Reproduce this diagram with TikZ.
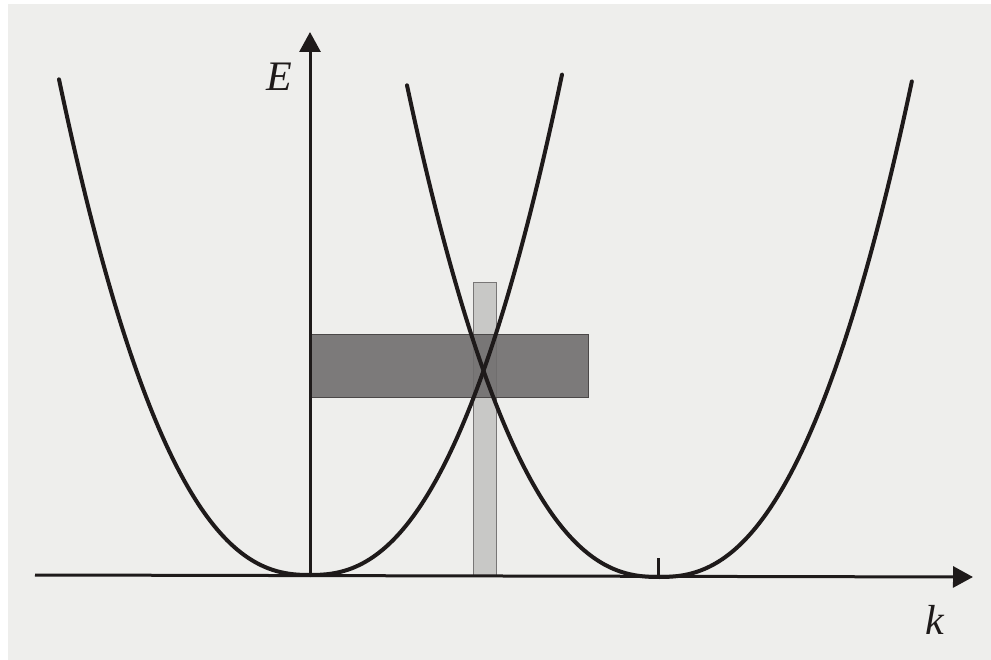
\documentclass[tikz,border=0pt]{standalone}
\usepackage{fontspec}
\setmainfont{Liberation Serif}
\usetikzlibrary{arrows.meta}
\definecolor{paper}{RGB}{238,238,236}
\definecolor{darkband}{RGB}{112,110,110}
\definecolor{lightbar}{RGB}{200,200,198}
\definecolor{ink}{RGB}{30,26,26}
\tikzset{
  axisline/.style={draw=ink, line width=3pt, -{Triangle[length=20pt,width=21pt]}},
  curve/.style={draw=ink, line width=4pt, line cap=round},
  bandbox/.style={fill=darkband, draw=ink!80, line width=1pt},
  barbox/.style={fill=lightbar, draw=ink!60, line width=1pt},
  axlabel/.style={font=\fontsize{42}{42}\selectfont\itshape, text=ink, inner sep=0pt}
}
\begin{document}
\begin{tikzpicture}[x=1pt, y=-1pt]
\useasboundingbox (0,0) rectangle (991,660);
\fill[white] (0,0) rectangle (991,660);
\fill[paper] (8,4) rectangle (991,660);
% named points
\coordinate (O) at (310,575);
\coordinate (Ktop) at (310,32);
\coordinate (Kleft) at (35,575);
\coordinate (Kright) at (973,577);
\coordinate (G) at (658,577);
\coordinate (Gtick) at (658,558);
% shaded regions
\draw[barbox] (473,283) rectangle (496,575);
\draw[bandbox, fill opacity=0.9] (310,335) rectangle (588,397);
% axes
\draw[axisline] (O) -- (Ktop);
\draw[axisline] (Kleft) -- (Kright);
\draw[draw=ink, line width=3pt] (G) -- (Gtick);
% parabolas
\draw[curve] plot[domain=-2.51:2.52, samples=121, smooth] ({310+100*\x}, {575-54.45*pow(abs(\x),2.4)});
\draw[curve] plot[domain=-2.52:2.53, samples=121, smooth] ({659+100*\x}, {577-53.5*pow(abs(\x),2.4)});
% labels
\node[axlabel] (Elab) at (279,77) {E};
\node[axlabel] (klab) at (935,620) {k};
\end{tikzpicture}
\end{document}
